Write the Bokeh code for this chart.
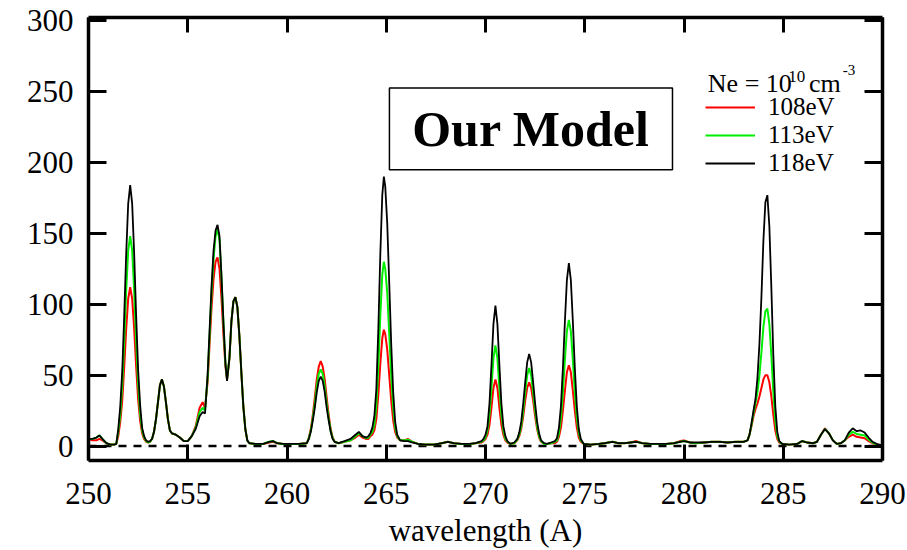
from bokeh.plotting import figure
from bokeh.models import (Range1d, LinearAxis, FixedTicker, Span, BoxAnnotation,
                          Label, Legend, LegendItem, ColumnDataSource,
                          CustomJSTickFormatter)
from bokeh.embed import file_html
from bokeh.resources import INLINE

# ---------------- data ----------------
wavelength = [
    250.0, 250.2, 250.4, 250.55, 250.7, 250.9, 251.1, 251.3, 251.4, 251.5,
    251.6, 251.7, 251.8, 251.9, 252.0, 252.1, 252.2, 252.3, 252.4, 252.5,
    252.6, 252.7, 252.8, 252.9, 253.0, 253.1, 253.2, 253.3, 253.4, 253.5,
    253.6, 253.7, 253.8, 253.9, 254.0, 254.1, 254.2, 254.4, 254.6, 254.8,
    255.0, 255.2, 255.4, 255.6, 255.75, 255.87, 256.0, 256.1, 256.2, 256.3,
    256.4, 256.5, 256.6, 256.7, 256.8, 256.9, 256.98, 257.1, 257.2, 257.3,
    257.4, 257.5, 257.6, 257.7, 257.8, 257.9, 258.0, 258.1, 258.4, 258.8,
    259.1, 259.3, 259.5, 259.8, 260.2, 260.6, 261.0, 261.1, 261.2, 261.3,
    261.4, 261.5, 261.6, 261.7, 261.8, 261.9, 262.0, 262.1, 262.2, 262.3,
    262.4, 262.6, 262.9, 263.2, 263.45, 263.62, 263.8, 264.0, 264.1, 264.2,
    264.3, 264.4, 264.5, 264.6, 264.7, 264.8, 264.88, 264.95, 265.05, 265.15,
    265.25, 265.35, 265.45, 265.55, 265.7, 265.9, 266.1, 266.3, 266.6, 267.0,
    267.4, 267.8, 268.1, 268.4, 268.8, 269.2, 269.5, 269.8, 269.9, 270.0,
    270.1, 270.2, 270.3, 270.4, 270.5, 270.6, 270.7, 270.8, 270.9, 271.0,
    271.1, 271.25, 271.45, 271.6, 271.7, 271.8, 271.9, 272.0, 272.1, 272.2,
    272.3, 272.4, 272.5, 272.6, 272.7, 272.8, 272.95, 273.1, 273.3, 273.5,
    273.6, 273.7, 273.8, 273.9, 274.0, 274.1, 274.2, 274.3, 274.4, 274.5,
    274.6, 274.7, 274.8, 274.95, 275.3, 275.7, 276.0, 276.4, 276.7, 277.0,
    277.3, 277.6, 277.9, 278.3, 278.7, 279.1, 279.5, 279.8, 280.0, 280.3,
    280.6, 281.0, 281.4, 281.8, 282.2, 282.6, 283.0, 283.2, 283.3, 283.4,
    283.5, 283.6, 283.7, 283.8, 283.9, 284.0, 284.1, 284.2, 284.3, 284.4,
    284.5, 284.6, 284.7, 284.8, 284.95, 285.3, 285.7, 285.95, 286.2, 286.5,
    286.7, 286.9, 287.1, 287.3, 287.5, 287.7, 287.9, 288.1, 288.3, 288.5,
    288.7, 288.9, 289.1, 289.3, 289.5, 289.7, 290.0,
]

i_108eV = [
    5, 4, 4, 5, 4, 2, 1, 1, 1.5, 7,
    17, 32, 56, 83, 104, 112, 104, 83, 56, 33,
    18, 9, 5, 3, 2.5, 3, 5, 10, 19, 31,
    43, 47, 42, 31, 19, 11, 9, 8, 6, 3.5,
    3.5, 7, 14, 27, 31, 27, 45, 72, 98, 118,
    130, 133, 125, 104, 78, 56, 47, 62, 88, 102,
    105, 98, 78, 52, 28, 12, 4, 2, 1.5, 1.5,
    2.5, 3, 2, 1.5, 1.5, 1.5, 2, 6, 12, 22,
    34, 47, 56, 60, 56, 47, 34, 22, 12, 6,
    3, 2, 3, 4, 6, 8, 6, 5, 5, 7,
    8, 11, 19, 36, 58, 76, 82, 79, 68, 50,
    32, 18, 10, 6, 4, 4, 5, 3, 1.5, 1,
    1, 2, 3, 2, 1.5, 1.5, 2, 2.5, 3.5, 5,
    8, 15, 27, 41, 47, 41, 27, 15, 8, 4,
    2.5, 1.5, 2, 4, 7, 12, 21, 32, 41, 45,
    41, 32, 21, 12, 6, 3, 1.5, 1.5, 2, 2,
    3, 6.5, 13, 25, 39, 52, 57, 52, 39, 25,
    13, 6, 3, 1.5, 1, 1.5, 2, 3, 2, 2,
    2.5, 3.5, 2, 1.5, 1.5, 1.5, 2, 3.5, 4, 2.5,
    2, 2.5, 3, 3, 2.5, 3, 3, 4, 8, 14,
    21, 26, 30, 35, 41, 47, 50, 50, 45, 35,
    22, 11, 5, 2.5, 1.5, 1, 1.5, 3.5, 2.5, 2,
    3, 8, 12.5, 9, 4, 1.5, 2, 4, 6.5, 8,
    6.5, 6, 5.5, 3.5, 2, 1, 0.5,
]

i_113eV = [
    5, 5, 6, 7.5, 5, 2, 1, 1, 1.5, 10,
    22, 43, 74, 110, 138, 148, 138, 110, 74, 44,
    23, 11, 6, 3.5, 2.5, 3, 5, 10, 19, 31,
    43, 47, 42, 31, 19, 11, 9, 8, 6, 3.5,
    3.5, 7, 13, 24, 27, 25, 48, 78, 108, 132,
    148, 153, 145, 118, 86, 58, 47, 62, 88, 102,
    105, 98, 78, 52, 28, 12, 4, 2, 1.5, 1.5,
    3, 3.5, 2, 1.5, 1.5, 1.5, 2, 5.5, 11, 19.5,
    30, 42, 51, 54, 51, 42, 30, 19.5, 11, 5.5,
    3, 2, 3, 4, 7, 9, 7, 5.5, 6, 8,
    10, 15, 28, 56, 92, 121, 130, 125, 108, 79,
    50, 27, 13, 7, 4, 4, 4.5, 3, 1.5, 1,
    1, 2, 3, 2, 1.5, 1.5, 2, 3, 4, 6,
    11, 22, 41, 62, 71, 62, 41, 22, 11, 5,
    3, 1.5, 2, 4.5, 8, 14, 25, 38, 50, 55,
    50, 38, 25, 14, 7, 3.5, 1.5, 1.5, 2, 3,
    4, 9, 20, 38, 61, 81, 89, 81, 61, 38,
    20, 9, 4, 1.5, 1, 1.5, 2, 3, 2, 2,
    2.5, 3, 2, 1.5, 1.5, 1.5, 2, 3, 3.5, 2.5,
    2, 2.5, 3, 3, 2.5, 3, 3, 4, 8, 15,
    23, 30, 38, 50, 66, 84, 95, 97, 86, 64,
    38, 18, 7, 3, 1.5, 1, 1.5, 3.5, 2.5, 2,
    3, 8, 12, 9, 4, 1.5, 2, 4, 8, 10,
    8.5, 8, 7.5, 4.5, 2.5, 1, 0.5,
]

i_118eV = [
    5, 5, 6, 7.5, 5, 2, 1, 1, 1.5, 12,
    28, 53, 92, 136, 171, 184, 171, 136, 92, 54,
    29, 13, 7, 4, 3, 3.5, 5, 10, 19, 31,
    43, 47, 42, 31, 19, 11, 9, 8, 6, 3.5,
    3.5, 7, 12, 21, 24, 23, 50, 82, 113, 138,
    152, 156, 148, 120, 87, 58, 46, 62, 88, 102,
    105, 98, 78, 52, 28, 12, 4, 2, 1.5, 1.5,
    3, 3.5, 2, 1.5, 1.5, 1.5, 2, 5, 10, 18,
    27, 38, 46, 49, 46, 38, 27, 18, 10, 5,
    3, 2, 3.5, 5, 8, 10, 7, 6, 7, 9,
    13, 21, 40, 82, 135, 177, 190, 183, 157, 115,
    72, 38, 17, 8, 4, 3.5, 3.5, 2.5, 1.5, 1,
    1, 2, 3, 2, 1.5, 1.5, 2, 3.5, 5, 8,
    14, 30, 57, 86, 99, 86, 57, 30, 14, 7,
    3.5, 1.5, 2.5, 5, 9.5, 17, 30, 45, 59, 65,
    59, 45, 30, 17, 9, 4, 2, 1.5, 2.5, 3.5,
    5.5, 13, 28, 55, 88, 117, 129, 117, 88, 55,
    28, 12, 5, 1.5, 1, 1.5, 2, 3, 2, 2,
    2.5, 3, 2, 1.5, 1.5, 1.5, 2, 3, 3.5, 2.5,
    2.5, 2.5, 3, 3, 2.5, 3, 3, 4, 8, 16,
    25, 33, 48, 72, 105, 145, 172, 177, 155, 112,
    64, 28, 10, 3.5, 1.5, 1, 1.5, 3.5, 2.5, 2,
    3, 8, 12, 9, 4, 1.5, 2, 4, 9.5, 12.5,
    10.5, 11, 9.5, 6, 3, 1.5, 0.5,
]

series_labels = ["108eV", "113eV", "118eV"]
series_colors = ["#ff0000", "#00ee00", "#000000"]
x_ticks = [250, 255, 260, 265, 270, 275, 280, 285, 290]
y_ticks = [0, 50, 100, 150, 200, 250, 300]

FONT = "Liberation Serif"

source = ColumnDataSource(dict(wl=wavelength, r=i_108eV, g=i_113eV, b=i_118eV))

p = figure(width=907, height=550, output_backend="svg", toolbar_location=None,
           x_range=Range1d(250, 290), y_range=Range1d(-10.2, 302.3),
           min_border_left=88, min_border_right=25, min_border_top=17,
           min_border_bottom=88, x_axis_label="wavelength (A)",
           background_fill_color="white", border_fill_color="white")
p.xgrid.visible = False
p.ygrid.visible = False
p.outline_line_color = None

# baseline
zero = Span(location=0, dimension="width", line_color="black",
            line_width=2.5, line_dash="8 7", level="underlay")
p.add_layout(zero)

renderers = []
for col, color, lw in zip(["r", "g", "b"], series_colors, [2.0, 2.0, 1.8]):
    renderers.append(p.line("wl", col, source=source, line_color=color, line_width=lw))


def style_axis(ax, ticks, labels=True, tick_len=16):
    ax.ticker = FixedTicker(ticks=ticks)
    ax.axis_line_width = 3.5
    ax.axis_line_color = "black"
    ax.major_tick_in = tick_len
    ax.major_tick_out = 0
    ax.major_tick_line_width = 3
    ax.major_tick_line_color = "black"
    ax.minor_tick_line_color = None
    if labels:
        ax.major_label_text_font = FONT
        ax.major_label_text_font_size = "31px"
        ax.major_label_text_color = "black"
    else:
        ax.formatter = CustomJSTickFormatter(code="return ''")
        ax.major_label_standoff = 0


style_axis(p.xaxis[0], x_ticks, tick_len=16)
p.xaxis[0].major_label_standoff = 22
p.xaxis[0].axis_label_text_font = FONT
p.xaxis[0].axis_label_text_font_size = "31px"
p.xaxis[0].axis_label_text_font_style = "normal"
p.xaxis[0].axis_label_text_color = "black"
p.xaxis[0].axis_label_standoff = 6
style_axis(p.yaxis[0], y_ticks, tick_len=18)
p.yaxis[0].major_label_standoff = 15

top = LinearAxis()
style_axis(top, x_ticks, labels=False, tick_len=15)
p.add_layout(top, "above")
right = LinearAxis()
style_axis(right, y_ticks, labels=False, tick_len=18)
p.add_layout(right, "right")

# "Our Model" box
box = BoxAnnotation(left=265.16, right=279.42, bottom=194.9, top=252.5,
                    fill_color=None, line_color="black", line_alpha=1.0,
                    line_width=1.5)
p.add_layout(box)
p.add_layout(Label(x=272.29, y=223.5, text="Our Model", text_font=FONT,
                   text_font_style="bold", text_font_size="50px",
                   text_align="center", text_baseline="middle", text_color="black"))

# legend title: Ne = 10^10 cm^-3
p.add_layout(Label(x=281.2, y=256.0, text="Ne = 10", text_font=FONT,
                   text_font_size="26px", text_baseline="alphabetic",
                   text_color="black"))
p.add_layout(Label(x=285.25, y=261.0, text="10", text_font=FONT,
                   text_font_size="17px", text_baseline="alphabetic",
                   text_color="black"))
p.add_layout(Label(x=286.3, y=256.0, text="cm", text_font=FONT,
                   text_font_size="26px", text_baseline="alphabetic",
                   text_color="black"))
p.add_layout(Label(x=288.0, y=265.0, text="-3", text_font=FONT,
                   text_font_size="15px", text_baseline="alphabetic",
                   text_color="black"))

legend = Legend(items=[LegendItem(label=lab, renderers=[r])
                       for lab, r in zip(series_labels, renderers)],
                location=(617, 283))
legend.label_text_font = FONT
legend.label_text_font_size = "25px"
legend.label_text_color = "black"
legend.glyph_width = 50
legend.glyph_height = 20
legend.label_height = 20
legend.label_standoff = 13
legend.spacing = 0
legend.padding = 0
legend.margin = 0
legend.background_fill_alpha = 0
legend.border_line_alpha = 0
p.add_layout(legend)

open("out.html", "w").write(file_html(p, INLINE))
